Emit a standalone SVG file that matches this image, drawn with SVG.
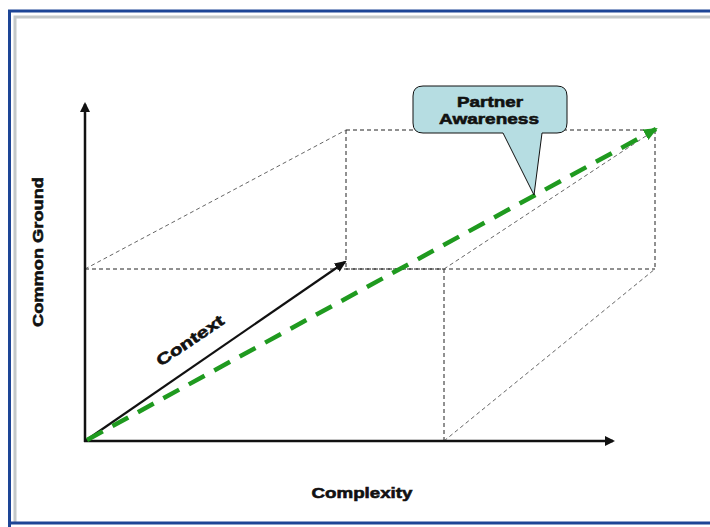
<svg xmlns="http://www.w3.org/2000/svg" width="710" height="527" viewBox="0 0 710 527">
  <style>
    .frame { fill: none; stroke: #1d4596; stroke-width: 3; }
    .inner { fill: none; stroke: #c4c8c8; stroke-width: 3; }
    .axis { stroke: #111; stroke-width: 2.5; fill: none; }
    .guide { stroke: #222; stroke-width: 1; stroke-dasharray: 4 3; fill: none; }
    .guide-soft { stroke: #666; stroke-width: 1; stroke-dasharray: 4 3; fill: none; }
    .label { font-family: "Liberation Sans", Arial, sans-serif; font-weight: bold; font-size: 15.5px; fill: #111; stroke: #111; stroke-width: 0.6; }
  </style>
  <defs>
    <marker id="arrowBlack" markerWidth="10" markerHeight="10" refX="8" refY="5" orient="auto" markerUnits="userSpaceOnUse">
      <path d="M0,0 L10,5 L0,10 Z" fill="#111"/>
    </marker>
    <marker id="arrowSmall" markerWidth="12" markerHeight="10" refX="10" refY="5" orient="auto" markerUnits="userSpaceOnUse">
      <path d="M0,0 L12,5 L0,10 Z" fill="#111"/>
    </marker>
    <marker id="arrowGreen" markerWidth="14" markerHeight="12" refX="12" refY="6" orient="auto" markerUnits="userSpaceOnUse">
      <path d="M0,0 L14,6 L0,12 Z" fill="#1f9a1f"/>
    </marker>
  </defs>

  <rect width="710" height="527" fill="#ffffff"/>

  <!-- page frame -->
  <path class="inner" d="M15,523 V17 H712"/>
  <path class="frame" d="M9.5,530 V11 H712 M9.5,523 H712"/>

  <!-- box outline -->
  <g id="box">
    <line class="guide" x1="85" y1="269" x2="655" y2="269"/>
    <line class="guide" x1="346" y1="269" x2="444" y2="269"/>
    <line class="guide" x1="346" y1="130" x2="655" y2="130"/>
    <line class="guide" x1="346" y1="130" x2="346" y2="269"/>
    <line class="guide" x1="655" y1="130" x2="655" y2="269"/>
    <line class="guide" x1="444" y1="269" x2="444" y2="441"/>
    <line class="guide-soft" x1="85" y1="269" x2="346" y2="130"/>
    <line class="guide-soft" x1="444" y1="269" x2="655" y2="130"/>
    <line class="guide-soft" x1="444" y1="441" x2="655" y2="269"/>
  </g>

  <g id="connectors">
    <!-- axes -->
    <line class="axis" x1="85" y1="442" x2="85" y2="104" marker-end="url(#arrowBlack)"/>
    <line class="axis" x1="84" y1="441" x2="613" y2="441" marker-end="url(#arrowBlack)"/>
    <!-- context vector -->
    <line x1="85" y1="441" x2="345" y2="262" stroke="#111" stroke-width="2.2" marker-end="url(#arrowSmall)"/>
    <!-- combined vector -->
    <line x1="87" y1="440" x2="656" y2="129" stroke="#1f9a1f" stroke-width="4.5" stroke-dasharray="18 11" marker-end="url(#arrowGreen)"/>
  </g>

  <!-- callout -->
  <g id="partner-awareness">
    <path d="M423,86 H557 Q567,86 567,96 V123 Q567,133 557,133 H542 L534,195 L503,133 H423 Q413,133 413,123 V96 Q413,86 423,86 Z" fill="#b6dde2" stroke="#111" stroke-width="1"/>
    <text class="label" x="490" y="107" text-anchor="middle" textLength="66" lengthAdjust="spacingAndGlyphs">Partner</text>
    <text class="label" x="489" y="124" text-anchor="middle" textLength="100" lengthAdjust="spacingAndGlyphs">Awareness</text>
  </g>

  <g id="axis-labels">
    <text class="label" x="362" y="498" text-anchor="middle" textLength="101" lengthAdjust="spacingAndGlyphs">Complexity</text>
    <text class="label" transform="translate(43,252) rotate(-90)" text-anchor="middle" textLength="150" lengthAdjust="spacingAndGlyphs">Common Ground</text>
    <text class="label" transform="translate(193,345) rotate(-34)" text-anchor="middle" textLength="78" lengthAdjust="spacingAndGlyphs">Context</text>
  </g>
</svg>
